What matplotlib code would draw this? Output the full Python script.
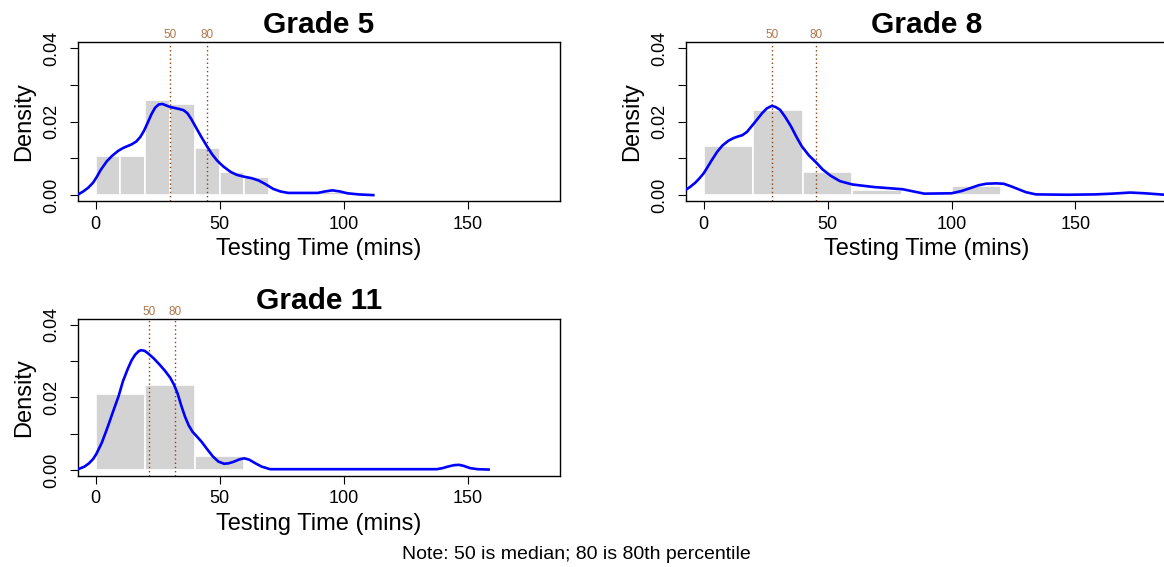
import numpy as np
import matplotlib
matplotlib.use("Agg")
import matplotlib.pyplot as plt

plt.rcParams['font.family'] = ['Liberation Sans', 'DejaVu Sans']

# histogram bins (left edges) and densities
g5_edges = [0, 10, 20, 30, 40, 50, 60, 70, 80, 90, 100, 110]
g5_dens = [0.0107, 0.0107, 0.0259, 0.0247, 0.0127, 0.0062, 0.0048, 0.0004, 0.0, 0.0008, 0.0004]
g8_edges = [0, 20, 40, 60, 80, 100, 120, 140, 160, 180]
g8_dens = [0.0135, 0.0231, 0.0062, 0.0014, 0.0004, 0.0025, 0.0004, 0.0, 0.0003]
g11_edges = [0, 20, 40, 60, 80, 100, 120, 140, 160]
g11_dens = [0.0209, 0.0233, 0.0039, 0.0, 0.0, 0.0, 0.0, 0.0002]

# density curves
g5_x = [-7, -5, -3, -1, 0.5, 2, 4.5, 6.5, 9, 11, 12.7, 14.5, 16.4, 18, 19.5, 21, 22.5, 24, 25.5,
        27, 28.5, 30, 32, 34, 35.5, 37, 38.5, 40, 42.5, 45, 47, 49, 51.5, 54.5, 57, 60, 63, 65.7,
        68.5, 71.6, 74.5, 77.6, 83, 89.6, 92.5, 95.5, 98.5, 101.5, 106, 112]
g5_y = [0.0002, 0.0010, 0.0020, 0.0034, 0.0050, 0.0068, 0.0092, 0.0106, 0.0120, 0.0128, 0.0133,
        0.0138, 0.0146, 0.0158, 0.0175, 0.0197, 0.0220, 0.0238, 0.0247, 0.0248, 0.0244, 0.0240,
        0.0237, 0.0234, 0.0231, 0.0223, 0.0208, 0.0190, 0.0160, 0.0132, 0.0111, 0.0094, 0.0078,
        0.0063, 0.0055, 0.0050, 0.0046, 0.0040, 0.0030, 0.0017, 0.0010, 0.0006, 0.0006, 0.0006,
        0.0010, 0.0013, 0.0010, 0.0005, 0.0002, 0.0]

g8_x = [-7.5, -5.5, -3.3, -1.5, 0, 1.5, 3.2, 5.5, 7.6, 10, 12, 14, 15.6, 17.5, 19.2, 21.5, 23.6,
        25.5, 27.5, 29, 30.9, 33, 35.2, 37.5, 39.6, 42.5, 45.4, 48, 51.2, 55, 60, 68.7, 80.3, 89,
        100, 104, 108, 111, 114, 118, 121, 124, 127, 130, 134, 147, 158, 164.8, 172, 178, 188]
g8_y = [0.0013, 0.0022, 0.0034, 0.0047, 0.0059, 0.0075, 0.0094, 0.0118, 0.0135, 0.0148, 0.0155,
        0.0160, 0.0163, 0.0172, 0.0186, 0.0205, 0.0223, 0.0236, 0.0243, 0.0240, 0.0232, 0.0212,
        0.0188, 0.0158, 0.0133, 0.0108, 0.0089, 0.0070, 0.0053, 0.0038, 0.0029, 0.0022, 0.0016,
        0.0004, 0.0005, 0.0011, 0.0020, 0.0027, 0.0031, 0.0032, 0.0031, 0.0024, 0.0016, 0.0008,
        0.0002, 0.0001, 0.0002, 0.0004, 0.0007, 0.0005, 0.0]

g11_x = [-6.7, -4.5, -2.7, -1, 0.3, 2.5, 4.8, 7, 9.3, 11, 13, 14.5, 16, 17.5, 18.5, 19.8, 21.2,
         23.5, 25.7, 28, 30.1, 31.6, 33.1, 34.6, 36.1, 37.6, 39.1, 41, 42.8, 45, 47.3, 49.5, 51.8,
         53.5, 55.5, 58, 60, 62, 64.5, 67, 70.4, 137.6, 140, 142, 144.5, 146.6, 148.5, 151, 154,
         158.5]
g11_y = [0.0003, 0.0009, 0.0018, 0.0030, 0.0044, 0.0075, 0.0117, 0.0160, 0.0204, 0.0244, 0.0279,
         0.0302, 0.0318, 0.0328, 0.0330, 0.0328, 0.0321, 0.0307, 0.0291, 0.0273, 0.0254, 0.0235,
         0.0210, 0.0176, 0.0146, 0.0122, 0.0105, 0.0091, 0.0077, 0.0057, 0.0037, 0.0023, 0.0017,
         0.0018, 0.0022, 0.0029, 0.0032, 0.0028, 0.0018, 0.0009, 0.0002, 0.0002, 0.0005, 0.0009,
         0.0013, 0.0014, 0.0011, 0.0005, 0.0002, 0.0001]

# median and 80th percentile
g5_pct = [30, 45]
g8_pct = [27.5, 45.3]
g11_pct = [21.5, 32.1]
pct_labels = ["50", "80"]

fig = plt.figure(figsize=(11.64, 5.67), dpi=100)


def panel(rect, title, edges, dens, cx, cy, pct):
    ax = fig.add_axes(rect)
    ax.bar(edges[:-1], dens, width=np.diff(edges), align='edge', color='#d3d3d3',
           edgecolor='white', linewidth=1.2, zorder=1)
    for p, lab in zip(pct, pct_labels):
        ax.axvline(p, color='#8B4513', linestyle=(0, (1, 2)), linewidth=1.0, zorder=2)
        ax.text(p, 1.006, lab, transform=ax.get_xaxis_transform(), ha='center', va='bottom',
                fontsize=8.5, color='#B0764A')
    ax.plot(cx, cy, color='#0000ff', linewidth=1.9, zorder=3, solid_joinstyle='round')
    ax.set_xlim(-7.2, 187.2)
    ax.set_ylim(-0.0016, 0.0416)
    ax.set_xticks([0, 50, 100, 150])
    ax.set_yticks([0, 0.01, 0.02, 0.03, 0.04])
    ax.set_yticklabels(["0.00", "", "0.02", "", "0.04"], rotation=90, va='center')
    ax.tick_params(axis='both', labelsize=13, length=5.5, width=0.8, pad=5)
    ax.tick_params(axis='y', pad=7)
    ax.set_xlabel("Testing Time (mins)", fontsize=17, labelpad=4)
    ax.set_ylabel("Density", fontsize=17, labelpad=6)
    ax.set_title(title, fontsize=21.5, fontweight='bold', pad=7)
    for s in ax.spines.values():
        s.set_linewidth(1.0)
    return ax


panel([0.0668, 0.6455, 0.4141, 0.2799], "Grade 5", g5_edges, g5_dens, g5_x, g5_y, g5_pct)
panel([0.5891, 0.6455, 0.4141, 0.2799], "Grade 8", g8_edges, g8_dens, g8_x, g8_y, g8_pct)
panel([0.0668, 0.1610, 0.4141, 0.2764], "Grade 11", g11_edges, g11_dens, g11_x, g11_y, g11_pct)

fig.text(0.495, 0.014, "Note: 50 is median; 80 is 80th percentile", ha='center', va='baseline',
         fontsize=14)

fig.savefig("out.png", dpi=100)
